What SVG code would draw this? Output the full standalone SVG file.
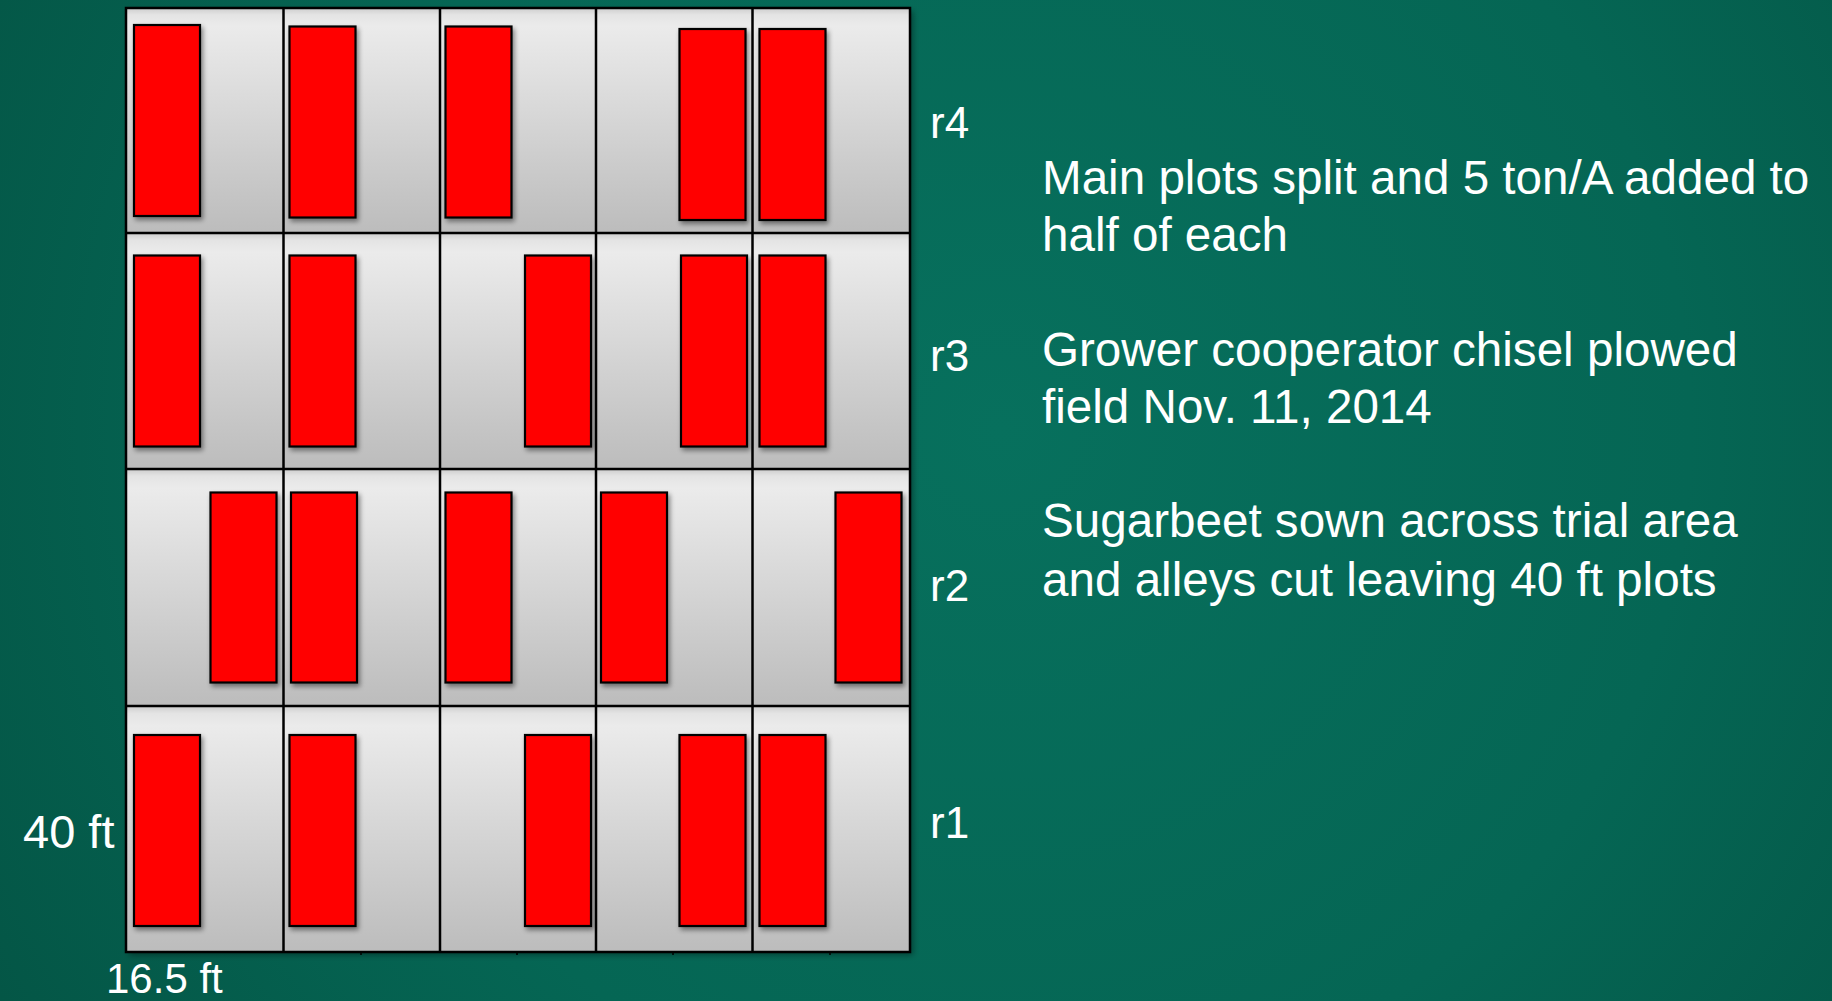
<svg xmlns="http://www.w3.org/2000/svg" width="1832" height="1001" viewBox="0 0 1832 1001">
  <defs>
    <radialGradient id="bg" gradientUnits="userSpaceOnUse" cx="1000" cy="430" r="1150">
      <stop offset="0" stop-color="#07705d"/>
      <stop offset="0.6" stop-color="#056654"/>
      <stop offset="1" stop-color="#045646"/>
    </radialGradient>
    <linearGradient id="cell" x1="0" y1="0" x2="0" y2="1">
      <stop offset="0" stop-color="#cdcdcd"/>
      <stop offset="0.03" stop-color="#e4e4e4"/>
      <stop offset="0.08" stop-color="#ebebeb"/>
      <stop offset="1" stop-color="#bcbcbc"/>
    </linearGradient>
    <filter id="shadow" x="-20%" y="-10%" width="150%" height="130%">
      <feGaussianBlur in="SourceAlpha" stdDeviation="2.5"/>
      <feOffset dx="2" dy="3" result="b"/>
      <feComponentTransfer><feFuncA type="linear" slope="0.45"/></feComponentTransfer>
      <feMerge><feMergeNode/><feMergeNode in="SourceGraphic"/></feMerge>
    </filter>
    <filter id="fshadow" x="-5%" y="-5%" width="110%" height="110%">
      <feGaussianBlur in="SourceAlpha" stdDeviation="3"/>
      <feOffset dx="3" dy="3" result="b"/>
      <feComponentTransfer><feFuncA type="linear" slope="0.4"/></feComponentTransfer>
      <feMerge><feMergeNode/><feMergeNode in="SourceGraphic"/></feMerge>
    </filter>
  </defs>
  <style>
    .cell { fill: url(#cell); }
    .grid { stroke: #000; stroke-width: 2.5; fill: none; }
    .plot { fill: #ff0000; stroke: #000; stroke-width: 2.2; filter: url(#shadow); }
    .lbl { font-family: "Liberation Sans", Arial, sans-serif; fill: #ffffff; }
    .tick { stroke: #000; stroke-width: 1.5; }
  </style>
  <rect x="0" y="0" width="1832" height="1001" fill="url(#bg)"/>

  <g id="field" filter="url(#fshadow)">
    <g id="row-r4">
      <rect class="cell" x="126" y="8" width="157.5" height="225"/>
      <rect class="cell" x="283.5" y="8" width="156.5" height="225"/>
      <rect class="cell" x="440" y="8" width="156" height="225"/>
      <rect class="cell" x="596" y="8" width="156.5" height="225"/>
      <rect class="cell" x="752.5" y="8" width="157.5" height="225"/>
    </g>
    <g id="row-r3">
      <rect class="cell" x="126" y="233" width="157.5" height="236"/>
      <rect class="cell" x="283.5" y="233" width="156.5" height="236"/>
      <rect class="cell" x="440" y="233" width="156" height="236"/>
      <rect class="cell" x="596" y="233" width="156.5" height="236"/>
      <rect class="cell" x="752.5" y="233" width="157.5" height="236"/>
    </g>
    <g id="row-r2">
      <rect class="cell" x="126" y="469" width="157.5" height="237"/>
      <rect class="cell" x="283.5" y="469" width="156.5" height="237"/>
      <rect class="cell" x="440" y="469" width="156" height="237"/>
      <rect class="cell" x="596" y="469" width="156.5" height="237"/>
      <rect class="cell" x="752.5" y="469" width="157.5" height="237"/>
    </g>
    <g id="row-r1">
      <rect class="cell" x="126" y="706" width="157.5" height="246"/>
      <rect class="cell" x="283.5" y="706" width="156.5" height="246"/>
      <rect class="cell" x="440" y="706" width="156" height="246"/>
      <rect class="cell" x="596" y="706" width="156.5" height="246"/>
      <rect class="cell" x="752.5" y="706" width="157.5" height="246"/>
    </g>
  </g>

  <g id="gridlines">
    <rect class="grid" x="126" y="8" width="784" height="944" stroke-width="3"/>
    <line class="grid" x1="283.5" y1="8" x2="283.5" y2="952"/>
    <line class="grid" x1="440" y1="8" x2="440" y2="952"/>
    <line class="grid" x1="596" y1="8" x2="596" y2="952"/>
    <line class="grid" x1="752.5" y1="8" x2="752.5" y2="952"/>
    <line class="grid" x1="126" y1="233" x2="910" y2="233"/>
    <line class="grid" x1="126" y1="469" x2="910" y2="469"/>
    <line class="grid" x1="126" y1="706" x2="910" y2="706"/>
    <line class="tick" x1="361" y1="952" x2="361" y2="955"/>
    <line class="tick" x1="517" y1="952" x2="517" y2="955"/>
    <line class="tick" x1="673" y1="952" x2="673" y2="955"/>
    <line class="tick" x1="830" y1="952" x2="830" y2="955"/>
  </g>

  <g id="plots-r4">
    <rect class="plot" x="134" y="25" width="66" height="191"/>
    <rect class="plot" x="289.5" y="26.5" width="66" height="191"/>
    <rect class="plot" x="445.5" y="26.5" width="66" height="191"/>
    <rect class="plot" x="679.5" y="29" width="66" height="191"/>
    <rect class="plot" x="759.5" y="29" width="66" height="191"/>
  </g>
  <g id="plots-r3">
    <rect class="plot" x="134" y="255.5" width="66" height="191"/>
    <rect class="plot" x="289.5" y="255.5" width="66" height="191"/>
    <rect class="plot" x="525" y="255.5" width="66" height="191"/>
    <rect class="plot" x="681" y="255.5" width="66" height="191"/>
    <rect class="plot" x="759.5" y="255.5" width="66" height="191"/>
  </g>
  <g id="plots-r2">
    <rect class="plot" x="210.5" y="492.5" width="66" height="190"/>
    <rect class="plot" x="291" y="492.5" width="66" height="190"/>
    <rect class="plot" x="445.5" y="492.5" width="66" height="190"/>
    <rect class="plot" x="601" y="492.5" width="66" height="190"/>
    <rect class="plot" x="835.5" y="492.5" width="66" height="190"/>
  </g>
  <g id="plots-r1">
    <rect class="plot" x="134" y="735" width="66" height="191"/>
    <rect class="plot" x="289.5" y="735" width="66" height="191"/>
    <rect class="plot" x="525" y="735" width="66" height="191"/>
    <rect class="plot" x="679.5" y="735" width="66" height="191"/>
    <rect class="plot" x="759.5" y="735" width="66" height="191"/>
  </g>

  <g id="row-labels" class="lbl" font-size="44">
    <text x="930" y="138">r4</text>
    <text x="930" y="371">r3</text>
    <text x="930" y="601">r2</text>
    <text x="930" y="838">r1</text>
  </g>

  <g id="dimensions" class="lbl">
    <text x="23" y="848" font-size="47">40 ft</text>
    <text x="106" y="993" font-size="42">16.5 ft</text>
  </g>

  <g id="notes" class="lbl" font-size="47.6">
    <text x="1042" y="194">Main plots split and 5 ton/A added to</text>
    <text x="1042" y="251">half of each</text>
    <text x="1042" y="366">Grower cooperator chisel plowed</text>
    <text x="1042" y="423">field Nov. 11, 2014</text>
    <text x="1042" y="537">Sugarbeet sown across trial area</text>
    <text x="1042" y="596">and alleys cut leaving 40 ft plots</text>
  </g>
</svg>
